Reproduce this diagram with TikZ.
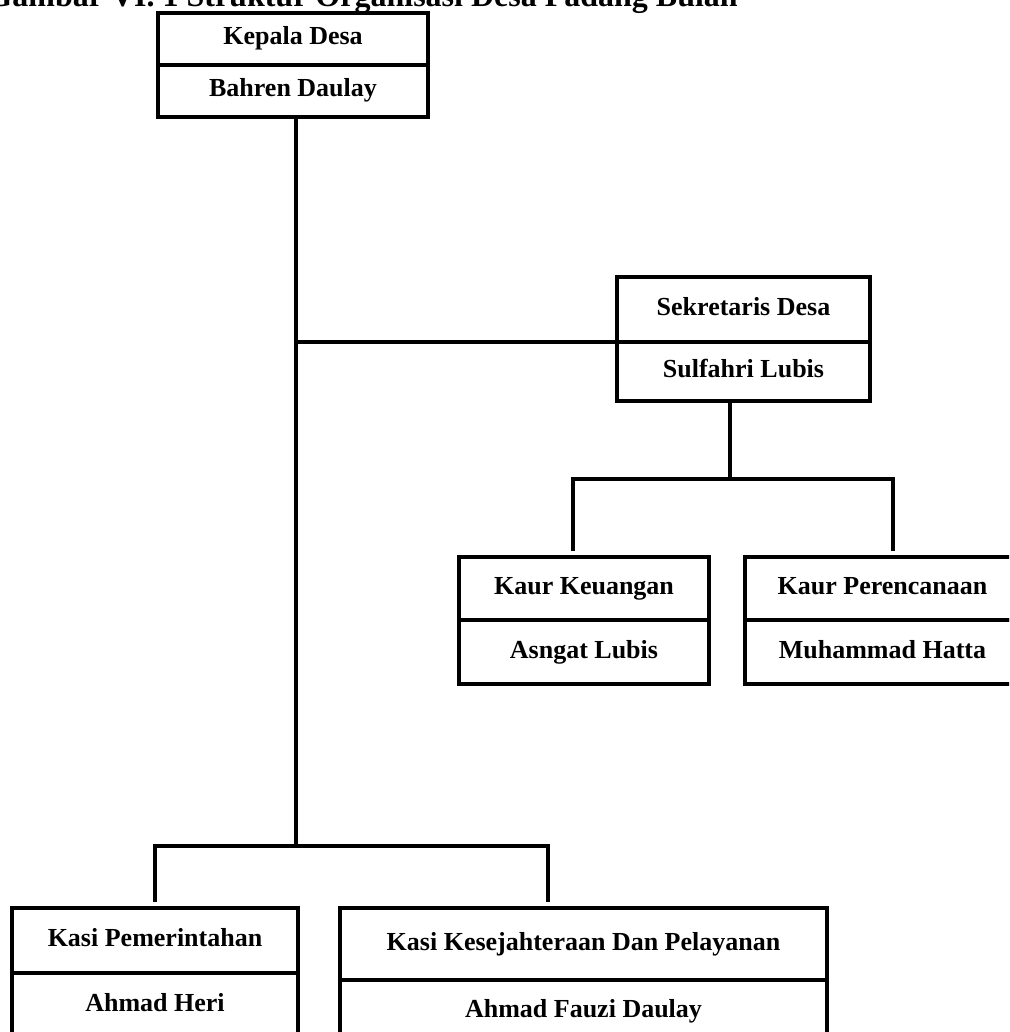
\documentclass[tikz,border=0pt]{standalone}
\usepackage{fontspec}
\setmainfont{Liberation Serif}
\usetikzlibrary{positioning}
\tikzset{
  jabatan/.style={draw,line width=3.5pt,outer sep=0pt,inner sep=0pt,anchor=north west,align=center,text height=18pt,text depth=6pt,font=\fontsize{26}{30}\selectfont\bfseries},
  nama/.style={draw,line width=3.5pt,outer sep=0pt,inner sep=0pt,align=center,text height=18pt,text depth=6pt,font=\fontsize{26}{30}\selectfont\bfseries},
  judul/.style={inner sep=0pt,anchor=base east,font=\fontsize{32}{36}\selectfont\bfseries},
  garis/.style={line width=3.5pt},
}

\begin{document}
\begin{tikzpicture}[x=1pt,y=-1pt]
    \useasboundingbox (0,0) rectangle (1009,1032);
    \clip (0,0) rectangle (1009,1032);
    \node[judul] (jud) at (738,7) {Gambar VI. 1 Struktur Organisasi Desa Padang Bulan};
    % kepala desa dan sekretaris
    \node[jabatan,minimum width=270pt,minimum height=52pt] (kades) at (158,13) {Kepala Desa};
    \node[nama,minimum width=270pt,minimum height=52pt,below=0pt of kades] (kadesN) {Bahren Daulay};
    \node[jabatan,minimum width=253pt,minimum height=65pt] (sekdes) at (617,277) {Sekretaris Desa};
    \node[nama,minimum width=253pt,minimum height=59pt,below=0pt of sekdes] (sekdesN) {Sulfahri Lubis};
    % kaur
    \node[jabatan,minimum width=250pt,minimum height=63pt] (kaurK) at (459,557) {Kaur Keuangan};
    \node[nama,minimum width=250pt,minimum height=64pt,below=0pt of kaurK] (kaurKN) {Asngat Lubis};
    \node[jabatan,minimum width=275pt,minimum height=63pt] (kaurR) at (745,557) {Kaur Perencanaan};
    \node[nama,minimum width=275pt,minimum height=64pt,below=0pt of kaurR] (kaurRN) {Muhammad Hatta};
    % kasi
    \node[jabatan,minimum width=286pt,minimum height=65pt] (kasiP) at (12,908) {Kasi Pemerintahan};
    \node[nama,minimum width=286pt,minimum height=65pt,below=0pt of kasiP] (kasiPN) {Ahmad Heri};
    \node[jabatan,minimum width=487pt,minimum height=72pt] (kasiK) at (340,908) {Kasi Kesejahteraan Dan Pelayanan};
    \node[nama,minimum width=487pt,minimum height=62pt,below=0pt of kasiK] (kasiKN) {Ahmad Fauzi Daulay};
    % garis
    \coordinate (cabKasi) at (296,846);
    \coordinate (cabKaur) at (730,479);
    \draw[garis] (cabKasi |- kadesN.south) -- (cabKasi);
    \draw[garis] (cabKasi |- sekdes.south) -- (sekdes.south west);
    \draw[garis] (cabKaur |- sekdesN.south) -- (cabKaur);
    \draw[garis,shorten >=6pt] (cabKaur) -| ([xshift=-11pt]kaurK.north);
    \draw[garis,shorten >=6pt] (cabKaur) -| ([xshift=10.5pt]kaurR.north);
    \draw[garis,shorten >=6pt] (cabKasi) -| (kasiP.north);
    \draw[garis,shorten >=6pt] (cabKasi) -| ([xshift=-35.5pt]kasiK.north);
  \end{tikzpicture}
\end{document}
